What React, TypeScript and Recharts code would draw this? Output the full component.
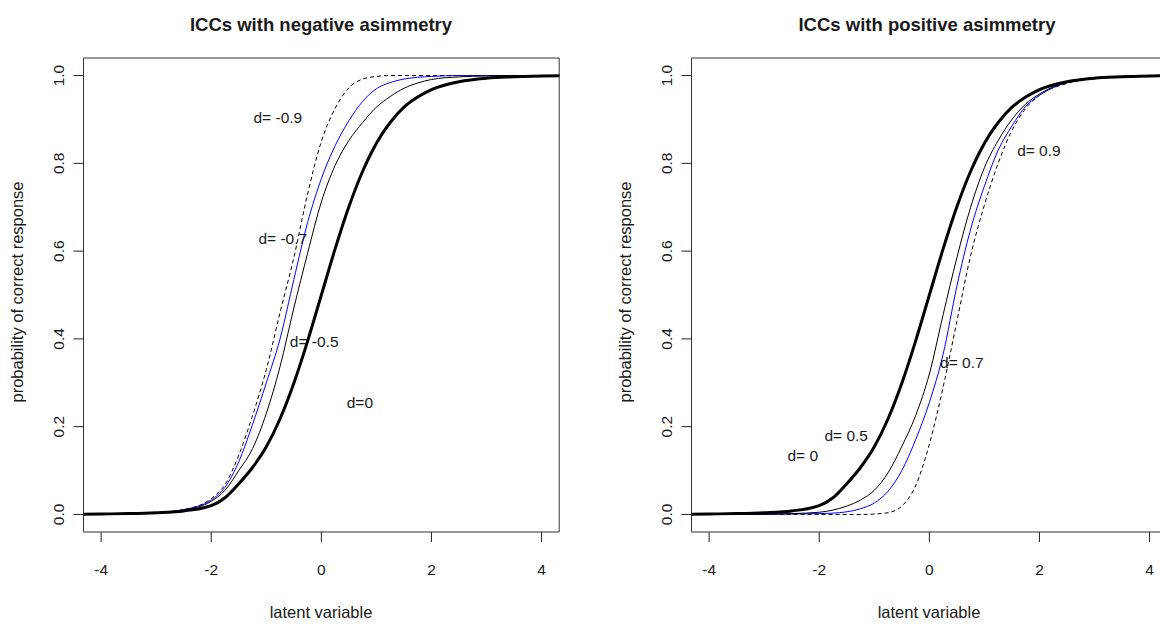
import { LineChart, Line, XAxis, YAxis, ReferenceArea, ReferenceDot } from 'recharts';

// latent variable grid (shared by all curves)
const xs = [-4.5, -4, -3.5, -3, -2.5, -2, -1.75, -1.5, -1.25, -1, -0.75, -0.5, -0.25, 0, 0.25, 0.5, 0.75, 1, 1.25, 1.5, 1.75, 2, 2.5, 3, 3.5, 4, 4.5];

// d = 0 (same in both panels)
const d0 = [0, 0.001, 0.002, 0.004, 0.008, 0.02, 0.038, 0.07, 0.107, 0.154, 0.218, 0.299, 0.395, 0.5, 0.605, 0.701, 0.782, 0.846, 0.893, 0.928, 0.951, 0.968, 0.986, 0.994, 0.997, 0.999, 1];

// negative asimmetry
const negD05 = [0, 0, 0.001, 0.004, 0.01, 0.03, 0.055, 0.1, 0.15, 0.23, 0.337, 0.47, 0.595, 0.712, 0.795, 0.852, 0.893, 0.928, 0.952, 0.971, 0.983, 0.991, 0.997, 0.999, 1, 1, 1];
const negD07 = [0, 0, 0.001, 0.004, 0.011, 0.033, 0.062, 0.12, 0.205, 0.3, 0.4, 0.535, 0.665, 0.765, 0.84, 0.897, 0.941, 0.97, 0.984, 0.992, 0.996, 0.998, 1, 1, 1, 1, 1];
const negD09 = [0, 0, 0.001, 0.004, 0.011, 0.036, 0.068, 0.135, 0.225, 0.33, 0.46, 0.585, 0.73, 0.85, 0.925, 0.972, 0.992, 0.998, 1, 1, 1, 1, 1, 1, 1, 1, 1];

// positive asimmetry
const posD05 = [0, 0, 0, 0.001, 0.002, 0.005, 0.01, 0.019, 0.033, 0.055, 0.095, 0.155, 0.225, 0.32, 0.455, 0.585, 0.7, 0.79, 0.852, 0.9, 0.935, 0.958, 0.985, 0.995, 0.998, 1, 1];
const posD07 = [0, 0, 0, 0, 0.001, 0.002, 0.003, 0.006, 0.013, 0.026, 0.053, 0.1, 0.17, 0.255, 0.365, 0.52, 0.65, 0.748, 0.83, 0.885, 0.93, 0.955, 0.984, 0.995, 0.998, 1, 1];
const posD09 = [0, 0, 0, 0, 0, 0, 0, 0, 0, 0.001, 0.004, 0.019, 0.065, 0.16, 0.29, 0.44, 0.59, 0.705, 0.8, 0.875, 0.925, 0.955, 0.982, 0.994, 0.998, 1, 1];

// text annotations (data coordinates)
const negLabels = ['d= -0.9', 'd= -0.7', 'd= -0.5', 'd=0'];
const negLabelX = [-0.79, -0.7, -0.13, 0.7];
const negLabelY = [0.904, 0.629, 0.393, 0.256];
const posLabels = ['d= 0.9', 'd= 0.7', 'd= 0.5', 'd= 0'];
const posLabelX = [1.99, 0.59, -1.51, -2.3];
const posLabelY = [0.83, 0.346, 0.18, 0.134];

const xTicks = [-4, -2, 0, 2, 4];
const yTicks = [0, 0.2, 0.4, 0.6, 0.8, 1];

const FONT = '"Liberation Sans", Arial, Helvetica, sans-serif';
const INK = '#1a1a1a';

const YTick = (props: any) => {
  const { x, y, payload } = props;
  const bx = x - 9;
  return (
    <text x={bx} y={y} transform={`rotate(-90, ${bx}, ${y})`} textAnchor="middle"
      fontSize={15.5} fontFamily={FONT} fill={INK}>
      {Number(payload.value).toFixed(1)}
    </text>
  );
};

type PanelProps = {
  thin: number[];
  blue: number[];
  dashed: number[];
  labels: string[];
  labelX: number[];
  labelY: number[];
};

const Panel = ({ thin, blue, dashed, labels, labelX, labelY }: PanelProps) => {
  const rows = xs.map((x, i) => ({ x, d0: d0[i], thin: thin[i], blue: blue[i], dashed: dashed[i] }));
  return (
    <LineChart width={600} height={624} data={rows}
      margin={{ top: 58, right: 40.8, left: 23.5, bottom: 52 }}>
      <XAxis dataKey="x" type="number" domain={[-4.32, 4.32]} ticks={xTicks} allowDataOverflow
        axisLine={false} tickSize={10} tickMargin={22} height={40}
        tickLine={{ stroke: '#222' }}
        tick={{ fontSize: 15.5, fontFamily: FONT, fill: INK }} />
      <YAxis type="number" domain={[-0.04, 1.04]} ticks={yTicks} allowDataOverflow
        axisLine={false} tickSize={10} tickMargin={0} width={60}
        tickLine={{ stroke: '#222' }} tick={<YTick />} />
      <ReferenceArea x1={-4.32} x2={4.32} y1={-0.04} y2={1.04} fill="none" fillOpacity={0}
        stroke="#333" strokeWidth={1} />
      <Line dataKey="dashed" type="monotone" stroke="#000" strokeWidth={1} strokeDasharray="4 3"
        dot={false} isAnimationActive={false} />
      <Line dataKey="blue" type="monotone" stroke="#0000ff" strokeWidth={1}
        dot={false} isAnimationActive={false} />
      <Line dataKey="thin" type="monotone" stroke="#000" strokeWidth={1}
        dot={false} isAnimationActive={false} />
      <Line dataKey="d0" type="monotone" stroke="#000" strokeWidth={3}
        dot={false} isAnimationActive={false} />
      {labels.map((t, i) => (
        <ReferenceDot key={t} x={labelX[i]} y={labelY[i]} r={0} stroke="none" fill="none"
          label={{ value: t, position: 'center', fontSize: 15.5, fontFamily: FONT, fill: INK }} />
      ))}
    </LineChart>
  );
};

export default function App() {
  return (
    <div style={{ position: 'absolute', left: 0, top: 0, width: 1160, height: 624, overflow: 'hidden', background: '#fff' }}>
      <div style={{ position: 'absolute', left: 0, top: 0 }}>
        <Panel thin={negD05} blue={negD07} dashed={negD09}
          labels={negLabels} labelX={negLabelX} labelY={negLabelY} />
      </div>
      <div style={{ position: 'absolute', left: 608, top: 0 }}>
        <Panel thin={posD05} blue={posD07} dashed={posD09}
          labels={posLabels} labelX={posLabelX} labelY={posLabelY} />
      </div>
      <svg width={1160} height={624} style={{ position: 'absolute', left: 0, top: 0, pointerEvents: 'none' }}>
        <g fontFamily={FONT} fill={INK}>
          <text x={321} y={31} textAnchor="middle" fontSize={18.5} fontWeight="bold">ICCs with negative asimmetry</text>
          <text x={927} y={31} textAnchor="middle" fontSize={18.5} fontWeight="bold">ICCs with positive asimmetry</text>
          <text x={321} y={618} textAnchor="middle" fontSize={16.5}>latent variable</text>
          <text x={929} y={618} textAnchor="middle" fontSize={16.5}>latent variable</text>
          <text x={22.5} y={292} textAnchor="middle" fontSize={16.5} transform="rotate(-90, 22.5, 292)">probability of correct response</text>
          <text x={630.5} y={292} textAnchor="middle" fontSize={16.5} transform="rotate(-90, 630.5, 292)">probability of correct response</text>
        </g>
      </svg>
    </div>
  );
}
